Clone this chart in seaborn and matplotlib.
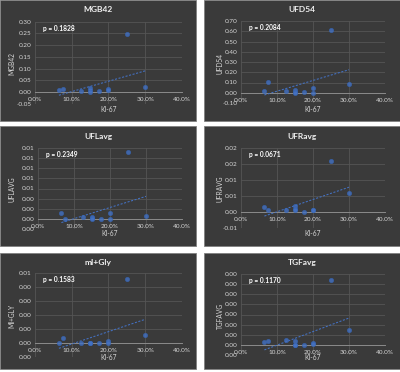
import numpy as np
import pandas as pd
import matplotlib
matplotlib.use("Agg")
import matplotlib.pyplot as plt
import seaborn as sns
from matplotlib.patches import Rectangle
from matplotlib.ticker import FuncFormatter, MultipleLocator
from decimal import Decimal, ROUND_HALF_UP

# ---------------- data ----------------
ki67 = [0.065, 0.075, 0.125, 0.15, 0.15, 0.15, 0.175, 0.20, 0.20, 0.25, 0.30]
mgb42 = [0.008, 0.014, 0.007, 0.020, 0.010, 0.001, 0.004, 0.014, 0.008, 0.245, 0.024]
ufd54 = [0.020, 0.107, 0.020, 0.030, 0.010, 0.000, 0.005, 0.050, 0.000, 0.610, 0.090]
uflavg = [0.0011, 0.0000, 0.0003, 0.0004, 0.0001, 0.0000, 0.0000, 0.0011, 0.0000, 0.0133, 0.00047]
ufravg = [0.0016, 0.0005, 0.0006, 0.0017, 0.0010, 0.0005, 0.0000, 0.0006, 0.0006, 0.0159, 0.0059]
mi_gly = [0.0000, 0.00034, 0.0000, 0.0000, 0.0000, 0.0000, 0.0000, 0.00012, 0.0000, 0.00459, 0.00058]
tgfavg = [0.00013, 0.00020, 0.00023, 0.00017, 0.0000, 0.0000, 0.0000, 0.00010, 0.00005, 0.00318, 0.00075]

series = [mgb42, ufd54, uflavg, ufravg, mi_gly, tgfavg]
titles = ["MGB42", "UFD54", "UFLavg", "UFRavg", "mI+Gly", "TGFavg"]
ylabels = ["MGB42", "UFD54", "UFLAVG", "UFRAVG", "MI+GLY", "TGFAVG"]
pvalues = ["p = 0.1828", "p = 0.2084", "p = 0.2349", "p = 0.0671", "p = 0.1583", "p = 0.1170"]
ylims = [(-0.05, 0.30), (-0.10, 0.70), (-0.002, 0.014), (-0.005, 0.020), (-0.001, 0.005), (-0.0005, 0.0035)]
ysteps = [0.05, 0.10, 0.002, 0.005, 0.001, 0.0005]
xlabel = "KI-67"
xticks = [0.0, 0.1, 0.2, 0.3, 0.4]

# ---------------- style ----------------
sns.set_theme(style="dark")
plt.rcParams['font.family'] = ['Lato', 'DejaVu Sans']

W, H = 400, 372
fig = plt.figure(figsize=(W / 100, H / 100), dpi=100)
fig.patch.set_facecolor('white')

BG = '#3a3a3a'
GRID = '#555555'
TXT = '#d6d6d6'
BLUE = '#4472C4'

# panel boxes in pixels (x, y_top, w, h)
panels = [(0, 0, 196, 121), (204, 0, 196, 121),
          (0, 126, 196, 120), (204, 126, 196, 120),
          (0, 253, 196, 116), (204, 253, 196, 116)]
# plot area inside panel: (left, top, right, bottom) px
plotboxes = [(35, 21.5, 182, 104), (37, 21, 181, 103),
             (38, 22, 182, 103), (37, 21.7, 181, 102),
             (35, 20.3, 182, 103.7), (37, 21, 181, 102)]


def fig_rect(x, y, w, h):
    return (x / W, 1 - (y + h) / H, w / W, h / H)


def yfmt(v, pos):
    d = Decimal(str(round(float(v), 10))).quantize(Decimal('0.01'), rounding=ROUND_HALF_UP)
    s = f"{d:.2f}"
    if s == "-0.00":
        s = "0.00"
    return s


def xfmt(v, pos):
    return f"{float(v) * 100:.1f}%"


for i in range(6):
    px, py, pw, ph = panels[i]
    fig.add_artist(Rectangle(fig_rect(px, py, pw, ph)[:2], pw / W, ph / H,
                             transform=fig.transFigure, facecolor=BG,
                             edgecolor='#808080', lw=0.6, zorder=0))
    l, t, r, b = plotboxes[i]
    ax = fig.add_axes(fig_rect(px + l, py + t, r - l, b - t))
    ax.set_facecolor('none')
    ax.set_zorder(2)

    df = pd.DataFrame({"ki67": ki67, "val": series[i]})
    sns.regplot(data=df, x="ki67", y="val", ax=ax, ci=None, color=BLUE,
                scatter_kws=dict(s=11, color=BLUE, edgecolor='#3060b0', linewidths=0.3, zorder=4),
                line_kws=dict(color=BLUE, lw=0.75, ls=(0, (2.0, 1.5)), zorder=3))

    ax.set_xlim(0, 0.4)
    ax.set_xticks(xticks)
    ax.yaxis.set_major_locator(MultipleLocator(ysteps[i]))
    ax.set_ylim(*ylims[i])
    ax.xaxis.set_major_formatter(FuncFormatter(xfmt))
    ax.yaxis.set_major_formatter(FuncFormatter(yfmt))
    ax.grid(True, color=GRID, lw=0.6)
    ax.set_axisbelow(True)
    for sp in ['top', 'right', 'left']:
        ax.spines[sp].set_visible(False)
    ax.spines['bottom'].set_position(('data', 0))
    ax.spines['bottom'].set_color('#8a8a8a')
    ax.spines['bottom'].set_linewidth(0.7)
    ax.tick_params(axis='both', length=0, labelsize=4.6, colors=TXT)
    ax.tick_params(axis='x', pad=3.5)
    ax.tick_params(axis='y', pad=2.5)
    ax.set_xlabel('')
    ax.set_ylabel('')

    ax.text(0.055, 0.92, pvalues[i], transform=ax.transAxes, fontsize=4.8,
            fontweight='bold', color='white', va='center', ha='left')

    # title
    fig.text((px + 98) / W, 1 - (py + 10) / H, titles[i], ha='center', va='center',
             fontsize=6.0, color='#f0f0f0', fontweight='bold')
    # x label
    fig.text((px + (l + r) / 2) / W, 1 - (py + ph - 12) / H, xlabel, ha='center', va='center',
             fontsize=4.8, color=TXT)
    # y label
    yl_x = 12 if i % 2 == 0 else 16
    fig.text((px + yl_x) / W, 1 - (py + (t + b) / 2 + 1) / H, ylabels[i], ha='center', va='center',
             rotation=90, fontsize=4.8, color=TXT)

fig.savefig("out.png", dpi=100, facecolor='white')
